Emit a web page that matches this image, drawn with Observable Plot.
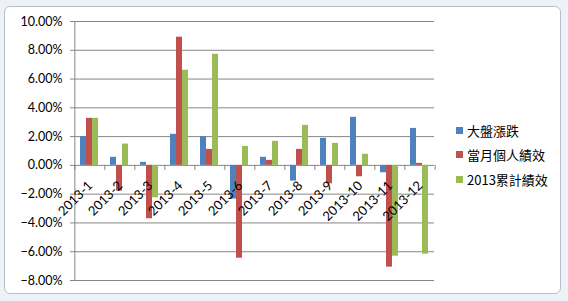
<!DOCTYPE html>
<html>
<head>
<meta charset="utf-8">
<script src="https://cdn.jsdelivr.net/npm/d3@7"></script>
<script src="https://cdn.jsdelivr.net/npm/@observablehq/plot@0.6"></script>
<style>
  html, body { margin:0; padding:0; width:568px; height:301px; overflow:hidden; background:#eef2f6; }
  #card { position:absolute; left:4px; top:6px; width:555px; height:286px; background:#fff; border:1px solid #b4c0cc; border-radius:6px; }
  #chart { position:absolute; left:0; top:0; }
  #legend { position:absolute; left:456px; top:118px; font-family:"Noto Sans CJK TC", sans-serif; font-size:13px; color:#000; }
  .item { display:flex; align-items:center; height:24.5px; }
  .sw { width:7px; height:7px; margin-right:4px; }
</style>
</head>
<body>
<div id="card"></div>
<div id="chart"></div>
<div id="legend"></div>
<script>
const categories = ["2013-1","2013-2","2013-3","2013-4","2013-5","2013-6","2013-7","2013-8","2013-9","2013-10","2013-11","2013-12"];
const series = ["大盤漲跌","當月個人績效","2013累計績效"];
const market =     [0.0200, 0.0056, 0.0021, 0.0216, 0.0200, -0.0234, 0.0056, -0.0109, 0.0188, 0.0334, -0.0051, 0.0257];
const monthly =    [0.0327, -0.0179, -0.0371, 0.0891, 0.0111, -0.0645, 0.0035, 0.0111, -0.0128, -0.0079, -0.0707, 0.0014];
const cumulative = [0.0327, 0.0148, -0.0225, 0.0661, 0.0772, 0.0132, 0.0167, 0.0278, 0.0153, 0.0077, -0.0631, -0.0617];
const yTicks = [-0.08, -0.06, -0.04, -0.02, 0, 0.02, 0.04, 0.06, 0.08, 0.10];
const colors = ["#4F81BD", "#C0504D", "#9BBB59"];

const valuesBySeries = [market, monthly, cumulative];
const data = categories.flatMap((c, i) => series.map((s, j) => ({cat: c, series: s, value: valuesBySeries[j][i]})));

const W = 568, H = 301, mL = 72, mR = 133, mT = 21, mB = 21;
const po = 0.83;
const facetW = (W - mL - mR) / categories.length;
const step = facetW / (series.length + 2 * po);
const toLeft = -(po * step + step / 2);
const gridColor = "#868686";
const font = "Lato, 'Liberation Sans', sans-serif";

const chart = Plot.plot({
  width: W, height: H,
  marginLeft: mL, marginRight: mR, marginTop: mT, marginBottom: mB,
  style: {background: "transparent", fontFamily: font, fontSize: "12px", color: "#000"},
  fx: {domain: categories, padding: 0, axis: null},
  x: {domain: series, paddingInner: 0, paddingOuter: po, axis: null},
  y: {domain: [-0.08, 0.10], axis: null},
  color: {domain: series, range: colors},
  marks: [
    Plot.ruleY(yTicks, {stroke: gridColor, strokeOpacity: 1}),
    Plot.axisY({ticks: yTicks, tickFormat: d3.format(".2%"), tickSize: 4, tickPadding: 8, stroke: gridColor, strokeOpacity: 1, label: null, fontSize: 12.5}),
    Plot.ruleX([categories[0]], {fx: d => d, x: () => series[0], y1: -0.08, y2: 0.10, stroke: gridColor, dx: toLeft}),
    Plot.ruleX(categories, {fx: d => d, x: () => series[0], y1: 0, y2: -0.0035, stroke: gridColor, dx: toLeft}),
    Plot.ruleX([categories[categories.length - 1]], {fx: d => d, x: () => series[0], y1: 0, y2: -0.0035, stroke: gridColor, dx: toLeft + facetW}),
    Plot.barY(data, {fx: "cat", x: "series", y: "value", fill: "series"}),
    Plot.text(categories, {fx: d => d, y: () => 0, text: d => d, rotate: -45, textAnchor: "end", dx: 1, dy: 18, fontSize: 13, fill: "#000"})
  ]
});
document.getElementById("chart").append(chart);

const legend = document.getElementById("legend");
series.forEach((s, i) => {
  const row = document.createElement("div");
  row.className = "item";
  const sw = document.createElement("span");
  sw.className = "sw";
  sw.style.background = colors[i];
  const t = document.createElement("span");
  t.textContent = s;
  row.append(sw, t);
  legend.append(row);
});
</script>
</body>
</html>
